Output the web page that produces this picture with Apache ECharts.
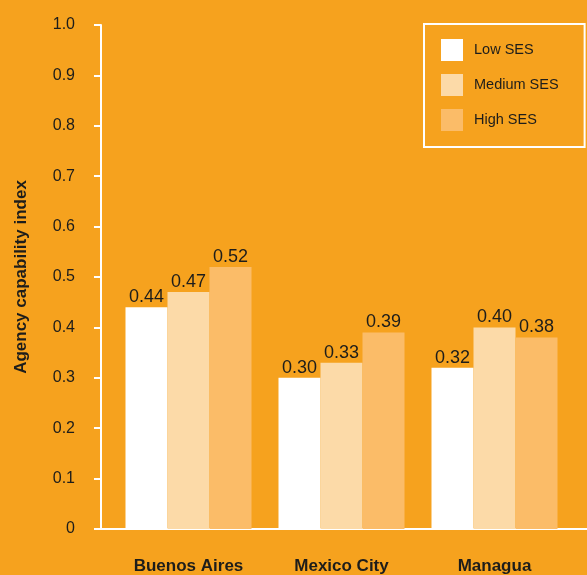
<!DOCTYPE html>
<html>
<head>
<meta charset="utf-8">
<script src="https://cdn.jsdelivr.net/npm/echarts@6/dist/echarts.min.js"></script>
<style>
  html, body { margin: 0; padding: 0; background: #F6A21E; }
  #chart { width: 587px; height: 575px; }
</style>
</head>
<body>
<div id="chart"></div>
<script>
let cities = ['Buenos Aires', 'Mexico City', 'Managua'];
let seriesNames = ['Low SES', 'Medium SES', 'High SES'];
let lowSES = [0.44, 0.30, 0.32];
let mediumSES = [0.47, 0.33, 0.40];
let highSES = [0.52, 0.39, 0.38];
let yTicks = [0, 0.1, 0.2, 0.3, 0.4, 0.5, 0.6, 0.7, 0.8, 0.9, 1.0];

let font = '"Liberation Sans", Arial, sans-serif';
let ink = '#1D1D1B';
let barColors = ['#FFFFFF', '#FCDAA8', '#FBBC68'];

let makeBar = (name, values, i) => {
    return {
        name: name,
        type: 'bar',
        xAxisIndex: 0,
        yAxisIndex: 0,
        data: values,
        barWidth: 42,
        barGap: '0%',
        itemStyle: { color: barColors[i] },
        label: {
            show: true,
            position: 'top',
            distance: 1,
            color: ink,
            fontFamily: font,
            fontSize: 18,
            formatter: (p) => p.value.toFixed(2)
        }
    };
};

var myChart = echarts.init(document.getElementById('chart'));
let option = {
    backgroundColor: '#F6A21E',
    animation: false,
    textStyle: { fontFamily: font },
    grid: [
        { left: 112, right: 16, top: 25, bottom: 46 },
        { left: 101, right: 0, top: 25, bottom: 46 }
    ],
    legend: {
        data: seriesNames,
        orient: 'vertical',
        left: 424,
        top: 24,
        padding: [15, 26, 16, 17],
        itemWidth: 22,
        itemHeight: 22,
        itemGap: 13,
        icon: 'rect',
        selectedMode: false,
        borderColor: '#FFFFFF',
        borderWidth: 2,
        textStyle: { color: ink, fontFamily: font, fontSize: 14.5, padding: [0, 0, 0, 6] }
    },
    xAxis: [
        {
            type: 'category',
            gridIndex: 0,
            data: cities,
            axisLine: { show: false },
            axisTick: { show: false },
            axisLabel: { color: ink, fontFamily: font, fontSize: 17, fontWeight: 'bold', margin: 29, interval: 0 }
        },
        {
            type: 'value',
            gridIndex: 1,
            min: 0,
            max: 1,
            position: 'bottom',
            axisLine: { show: true, onZero: false, lineStyle: { color: '#FFFFFF', width: 2 } },
            axisTick: { show: false },
            axisLabel: { show: false },
            splitLine: { show: false }
        }
    ],
    yAxis: [
        {
            type: 'value',
            gridIndex: 0,
            min: yTicks[0],
            max: yTicks[yTicks.length - 1],
            interval: 0.1,
            offset: 11,
            name: 'Agency capability index',
            nameLocation: 'middle',
            nameGap: 71,
            nameTextStyle: { color: ink, fontFamily: font, fontSize: 17, fontWeight: 'bold' },
            axisLine: { show: true, lineStyle: { color: '#FFFFFF', width: 2 } },
            axisTick: { show: true, length: 7, lineStyle: { color: '#FFFFFF', width: 2 } },
            axisLabel: {
                color: ink,
                fontFamily: font,
                fontSize: 16,
                margin: 26,
                formatter: (v) => v === 0 ? '0' : v.toFixed(1)
            },
            splitLine: { show: false }
        },
        {
            type: 'value',
            gridIndex: 1,
            min: 0,
            max: 1,
            show: false
        }
    ],
    series: [
        makeBar(seriesNames[0], lowSES, 0),
        makeBar(seriesNames[1], mediumSES, 1),
        makeBar(seriesNames[2], highSES, 2)
    ]
};
myChart.setOption(option);
</script>
</body>
</html>
